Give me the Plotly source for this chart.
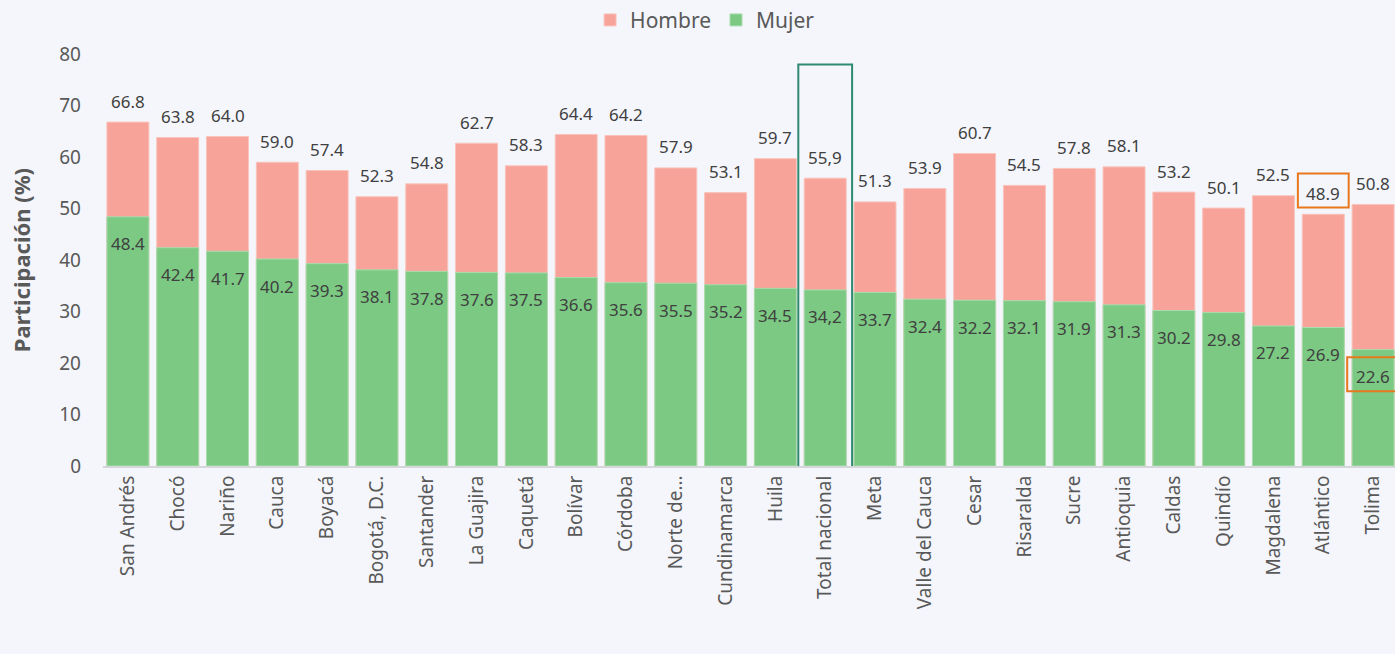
import plotly.graph_objects as go

categorias = ["San Andrés", "Chocó", "Nariño", "Cauca", "Boyacá", "Bogotá, D.C.", "Santander",
              "La Guajira", "Caquetá", "Bolívar", "Córdoba", "Norte de…", "Cundinamarca", "Huila",
              "Total nacional", "Meta", "Valle del Cauca", "Cesar", "Risaralda", "Sucre", "Antioquia",
              "Caldas", "Quindío", "Magdalena", "Atlántico", "Tolima"]
hombre = [66.8, 63.8, 64.0, 59.0, 57.4, 52.3, 54.8, 62.7, 58.3, 64.4, 64.2, 57.9, 53.1, 59.7,
          55.9, 51.3, 53.9, 60.7, 54.5, 57.8, 58.1, 53.2, 50.1, 52.5, 48.9, 50.8]
mujer = [48.4, 42.4, 41.7, 40.2, 39.3, 38.1, 37.8, 37.6, 37.5, 36.6, 35.6, 35.5, 35.2, 34.5,
         34.2, 33.7, 32.4, 32.2, 32.1, 31.9, 31.3, 30.2, 29.8, 27.2, 26.9, 22.6]
y_ticks = [0, 10, 20, 30, 40, 50, 60, 70, 80]

PINK = "#f7a399"
GREEN = "#7bc982"
TXT = "#404040"
GRAY = "#595959"
FONT = "Noto Sans"
BG = "#f4f6fb"


def fmt(v, cat):
    s = f"{v:.1f}"
    return s.replace(".", ",") if cat == "Total nacional" else s


fig = go.Figure()
fig.add_trace(go.Bar(x=categorias, y=hombre, name="Hombre",
                     marker=dict(color=PINK, line=dict(width=1, color="#f9c4bd"))))
fig.add_trace(go.Bar(x=categorias, y=mujer, name="Mujer",
                     marker=dict(color=GREEN, line=dict(width=1, color="#a9dcae"))))

annotations = []
for c, h, m in zip(categorias, hombre, mujer):
    annotations.append(dict(x=c, y=h, text=fmt(h, c), showarrow=False, yshift=21,
                            font=dict(family=FONT, size=17, color=TXT)))
    annotations.append(dict(x=c, y=m, text=fmt(m, c), showarrow=False, yshift=-27,
                            font=dict(family=FONT, size=17, color=TXT)))

idx_total = categorias.index("Total nacional")
idx_atl = categorias.index("Atlántico")
idx_tol = categorias.index("Tolima")
shapes = [
    dict(type="rect", xref="x", yref="y", x0=idx_total - 0.54, x1=idx_total + 0.54,
         y0=-40, y1=78.0, line=dict(color="#2f8a72", width=2), fillcolor="rgba(0,0,0,0)", layer="above"),
    dict(type="rect", xref="x", yref="y", x0=idx_atl - 0.51, x1=idx_atl + 0.51,
         y0=50.2, y1=56.8, line=dict(color="#e8771e", width=2), fillcolor="rgba(0,0,0,0)", layer="above"),
    dict(type="rect", xref="x", yref="y", x0=idx_tol - 0.52, x1=idx_tol + 0.7,
         y0=14.5, y1=21.1, line=dict(color="#e8771e", width=2), fillcolor="rgba(0,0,0,0)", layer="above"),
]

fig.update_layout(
    width=1395, height=654,
    margin=dict(l=103, r=0, t=53, b=188),
    barmode="overlay", bargap=0.157,
    paper_bgcolor=BG, plot_bgcolor=BG,
    font=dict(family=FONT, color=TXT),
    legend=dict(orientation="h", x=0.466, xanchor="center", yref="container", y=0.969, yanchor="middle",
                font=dict(family=FONT, size=21, color=GRAY), traceorder="normal",
                bgcolor="rgba(0,0,0,0)", itemwidth=30),
    xaxis=dict(type="category", range=[-0.5, 25.44], tickangle=-90, showgrid=False,
               showline=True, linecolor="#d4d6da", linewidth=2, ticks="",
               tickfont=dict(family=FONT, size=19, color=GRAY)),
    yaxis=dict(range=[0, 80], tickvals=y_ticks, showgrid=False, zeroline=False, showline=False,
               tickfont=dict(family=FONT, size=19, color=GRAY), ticks="", ticklabelstandoff=21,
               title=dict(text="<b>Participación (%)</b>", font=dict(family=FONT, size=22, color=GRAY),
                          standoff=22)),
    annotations=annotations,
    shapes=shapes,
)

fig.write_html("out.html", config={"displayModeBar": False},
               post_script="document.body.style.margin='0';document.body.style.overflow='hidden';")
